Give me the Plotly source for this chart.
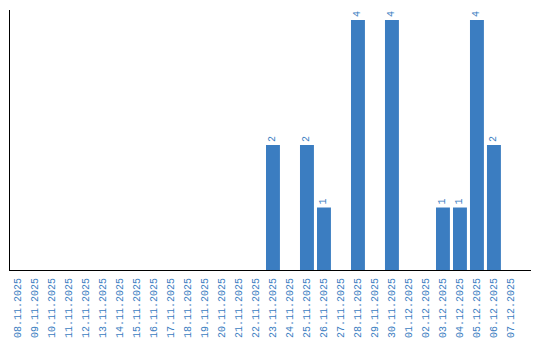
import plotly.graph_objects as go

dates = ["08.11.2025", "09.11.2025", "10.11.2025", "11.11.2025", "12.11.2025",
         "13.11.2025", "14.11.2025", "15.11.2025", "16.11.2025", "17.11.2025",
         "18.11.2025", "19.11.2025", "20.11.2025", "21.11.2025", "22.11.2025",
         "23.11.2025", "24.11.2025", "25.11.2025", "26.11.2025", "27.11.2025",
         "28.11.2025", "29.11.2025", "30.11.2025", "01.12.2025", "02.12.2025",
         "03.12.2025", "04.12.2025", "05.12.2025", "06.12.2025", "07.12.2025"]
counts = [0, 0, 0, 0, 0, 0, 0, 0, 0, 0, 0, 0, 0, 0, 0,
          2, 0, 2, 1, 0, 4, 0, 4, 0, 0, 1, 1, 4, 2, 0]

labels = [str(c) if c else "" for c in counts]
blue = "#3b7dc1"
font = "Liberation Mono"

fig = go.Figure(go.Bar(
    x=dates, y=counts, marker_color=blue, marker_line_width=0,
    text=labels, textposition="outside", textangle=-90,
    textfont=dict(family=font, size=10, color=blue),
    cliponaxis=False, hoverinfo="skip",
))

fig.update_layout(
    width=540, height=340,
    margin=dict(l=10, r=9, t=10, b=70, autoexpand=False),
    paper_bgcolor="white", plot_bgcolor="white",
    bargap=0.18, showlegend=False,
)
fig.update_xaxes(
    type="category", range=[-0.47, 30.18], automargin=False,
    showline=True, linecolor="black", linewidth=1,
    showgrid=False, ticks="outside", ticklen=3, tickcolor="rgba(0,0,0,0)",
    tickangle=-90,
    tickfont=dict(family=font, size=10, color=blue),
)
fig.update_yaxes(
    range=[0, 4.16], showline=True, linecolor="black", linewidth=1,
    showgrid=False, zeroline=False, showticklabels=False, ticks="",
    automargin=False,
)

fig.write_html("out.html")
